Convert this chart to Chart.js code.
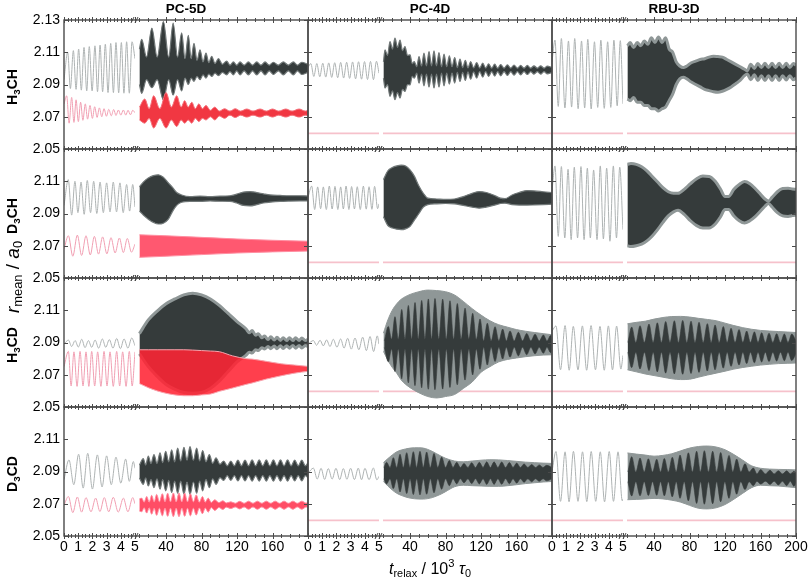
<!DOCTYPE html>
<html>
<head>
<meta charset="utf-8">
<script src="https://cdn.jsdelivr.net/npm/chart.js@4/dist/chart.umd.min.js"></script>
<style>
  html, body { margin: 0; padding: 0; background: #fff; }
  #wrap { position: relative; width: 808px; height: 581px; font-family: "Liberation Sans", Arial, Helvetica, sans-serif; color: #000; }
  #chart { position: absolute; left: 0; top: 0; }
  .lab { position: absolute; white-space: nowrap; line-height: 1; }
  .colt { font-weight: bold; font-size: 13.5px; transform: translate(-50%, -50%); }
  .rowt { font-weight: bold; font-size: 14px; transform: translate(-50%, -50%) rotate(-90deg); }
  .ytitle { font-size: 19px; transform: translate(-50%, -50%) rotate(-90deg); }
  .xtitle { font-size: 16px; transform: translate(-50%, -50%); }
  .lab sub, .lab sup { font-size: 0.7em; line-height: 0; }
  .lab sub { vertical-align: -0.3em; }
  .lab sup { vertical-align: 0.6em; }
  .ytitle sub, .xtitle sub { font-size: 0.68em; }
</style>
</head>
<body>
<div id="wrap">
  <canvas id="chart" width="808" height="581"></canvas>
</div>
<script>
// ---- labels and ticks ----
const colNames = ['PC-5D', 'PC-4D', 'RBU-3D'];
const rowNames = ['H<sub>3</sub>CH', 'D<sub>3</sub>CH', 'H<sub>3</sub>CD', 'D<sub>3</sub>CD'];
const yTitle = '<i>r</i><sub>mean</sub> / <i>a</i><sub>0</sub>';
const xTitle = '<i>t</i><sub>relax</sub> / 10<sup>3</sup> <i>&tau;</i><sub>0</sub>';

const yTicks = [2.05, 2.07, 2.09, 2.11, 2.13];
const yTickLabels = ['2.05', '2.07', '2.09', '2.11', '2.13'];
const xTicksEarly = [0, 1, 2, 3, 4, 5];
const xTickLabelsEarly = ['0', '1', '2', '3', '4', '5'];
const xTicksLate = [40, 80, 120, 160, 200];
const xTickLabelsLate = ['40', '80', '120', '160', '200'];
const xMinorEarly = [0.25, 0.5, 0.75, 1.25, 1.5, 1.75, 2.25, 2.5, 2.75, 3.25, 3.5, 3.75, 4.25, 4.5, 4.75];
const xMinorLate = [10, 20, 30, 50, 60, 70, 90, 100, 110, 130, 140, 150, 170, 180, 190];

// flat pink trace (PC-4D, RBU-3D columns)
const flatPinkEarlyT = [0, 5];
const flatPinkEarlyV = [2.0597, 2.0597];
const flatPinkLateT = [9.5, 200];
const flatPinkLateV = [2.0597, 2.0597];

// ---- H3CH / PC-5D ----
const p11LineT = [0, 0.26, 0.45, 0.66, 0.85, 1.03, 1.22, 1.41, 1.6, 1.78, 1.98, 2.18, 2.36, 2.54, 2.72, 2.91, 3.1, 3.29, 3.48, 3.66, 3.85, 4.04, 4.22, 4.41, 4.6, 4.79, 5];
const p11LineV = [2.093, 2.110, 2.0875, 2.111, 2.087, 2.112, 2.0865, 2.113, 2.086, 2.1135, 2.086, 2.114, 2.0855, 2.1145, 2.0855, 2.115, 2.085, 2.1155, 2.085, 2.116, 2.0848, 2.116, 2.0846, 2.1165, 2.0846, 2.1165, 2.106];
const p11PinkT = [0, 0.19, 0.36, 0.54, 0.70, 0.85, 1.01, 1.17, 1.33, 1.5, 1.66, 1.83, 2.0, 2.16, 2.33, 2.49, 2.66, 2.82, 2.99, 3.15, 3.33, 3.5, 3.66, 3.83, 4.0, 4.18, 4.35, 4.51, 4.68, 4.84, 5];
const p11PinkV = [2.078, 2.083, 2.066, 2.082, 2.0665, 2.0805, 2.067, 2.079, 2.0678, 2.078, 2.0685, 2.077, 2.069, 2.0762, 2.0696, 2.0755, 2.070, 2.075, 2.0703, 2.0746, 2.0706, 2.0745, 2.0708, 2.0742, 2.071, 2.0742, 2.071, 2.074, 2.0712, 2.074, 2.0725];
const p11BandT = [10, 12.5, 18, 24, 30, 37, 43, 48, 53, 57.6, 61.4, 65.1, 68.3, 71.5, 74.9, 78.3, 81.7, 85, 88.2, 91.4, 95.2, 99, 103.6, 108.3, 112, 115.9, 119.6, 123.4, 128, 132.8, 137.5, 142.2, 147, 151.6, 156.3, 161, 166.6, 172.2, 177.8, 183.5, 188.2, 192.9, 200];
const p11BandHi = [2.112, 2.118, 2.107, 2.125, 2.107, 2.129, 2.107, 2.128, 2.107, 2.122, 2.106, 2.1205, 2.106, 2.1155, 2.105, 2.1115, 2.104, 2.1095, 2.1035, 2.1075, 2.103, 2.106, 2.1025, 2.1045, 2.102, 2.104, 2.102, 2.104, 2.102, 2.104, 2.102, 2.104, 2.102, 2.104, 2.102, 2.1038, 2.102, 2.104, 2.102, 2.104, 2.102, 2.1038, 2.1025];
const p11BandLo = [2.090, 2.0845, 2.093, 2.088, 2.093, 2.0805, 2.093, 2.0835, 2.093, 2.086, 2.094, 2.090, 2.094, 2.092, 2.095, 2.093, 2.096, 2.094, 2.0965, 2.095, 2.097, 2.0955, 2.0975, 2.096, 2.098, 2.096, 2.0985, 2.096, 2.0985, 2.096, 2.0985, 2.096, 2.0985, 2.096, 2.0985, 2.0962, 2.0985, 2.096, 2.0985, 2.096, 2.0985, 2.0962, 2.0975];
const p11RedT = [10, 16, 21, 26, 33, 40, 46, 52, 57, 61, 65, 69, 73, 77, 81, 85, 90, 95, 100, 106, 112, 118, 124, 131, 138, 146, 153, 160, 167, 175, 182, 190, 197, 200];
const p11RedHi = [2.076, 2.081, 2.075, 2.083, 2.075, 2.085, 2.076, 2.083, 2.076, 2.080, 2.076, 2.079, 2.075, 2.078, 2.075, 2.077, 2.074, 2.076, 2.0735, 2.075, 2.0735, 2.075, 2.0735, 2.0748, 2.0735, 2.0748, 2.0735, 2.0748, 2.0735, 2.0748, 2.0735, 2.0748, 2.0735, 2.074];
const p11RedLo = [2.068, 2.066, 2.069, 2.063, 2.069, 2.063, 2.068, 2.064, 2.068, 2.066, 2.068, 2.066, 2.069, 2.067, 2.069, 2.068, 2.070, 2.068, 2.0705, 2.069, 2.071, 2.0695, 2.071, 2.0698, 2.071, 2.0698, 2.071, 2.0698, 2.071, 2.0698, 2.071, 2.0698, 2.071, 2.0705];

// ---- H3CH / PC-4D ----
const p12LineT = [0, 0.2, 0.41, 0.62, 0.83, 1.04, 1.25, 1.46, 1.67, 1.88, 2.09, 2.3, 2.51, 2.72, 2.93, 3.14, 3.35, 3.56, 3.77, 3.98, 4.19, 4.4, 4.61, 4.82, 5];
const p12LineV = [2.1005, 2.103, 2.095, 2.103, 2.0948, 2.1032, 2.0946, 2.1034, 2.0944, 2.1035, 2.0942, 2.1037, 2.094, 2.1038, 2.0938, 2.104, 2.0935, 2.1041, 2.0933, 2.1042, 2.0931, 2.1043, 2.093, 2.1044, 2.097];
const p12BandT = [10, 11.8, 14.6, 17.4, 20.2, 23, 25.9, 28.7, 31.5, 34.3, 37.2, 40, 42.4, 44.8, 47.5, 50.1, 53, 55.7, 58.5, 61.4, 64.2, 67, 69.8, 72.6, 75.5, 78.3, 81.3, 84.3, 87.3, 90.3, 93.3, 96.3, 99.3, 102.3, 105.3, 108.3, 111.7, 115.1, 118.5, 121.9, 125.3, 128.6, 132, 135.4, 138.8, 142.2, 146, 149.7, 153.5, 157.2, 161, 164.7, 168.5, 172.2, 176, 179.7, 183.5, 187.3, 191, 194.8, 200];
const p12BandHi = [2.104, 2.1115, 2.108, 2.1166, 2.112, 2.1187, 2.113, 2.1176, 2.111, 2.1135, 2.108, 2.1084, 2.103, 2.1042, 2.101, 2.1073, 2.1015, 2.1094, 2.1015, 2.1104, 2.1015, 2.1108, 2.1015, 2.1098, 2.101, 2.1088, 2.101, 2.1077, 2.101, 2.1067, 2.1005, 2.1057, 2.1005, 2.1049, 2.1003, 2.1042, 2.1003, 2.1036, 2.1002, 2.1032, 2.1002, 2.1028, 2.1001, 2.1026, 2.1001, 2.1024, 2.1001, 2.1022, 2.1001, 2.102, 2.1001, 2.1018, 2.1001, 2.1018, 2.1001, 2.1016, 2.1001, 2.1016, 2.1001, 2.1014, 2.1005];
const p12BandLo = [2.094, 2.0878, 2.090, 2.0826, 2.086, 2.0806, 2.085, 2.0816, 2.087, 2.0857, 2.090, 2.0898, 2.095, 2.0939, 2.097, 2.0909, 2.0965, 2.0892, 2.0965, 2.0884, 2.0965, 2.0878, 2.0965, 2.0884, 2.097, 2.0892, 2.097, 2.0902, 2.097, 2.0909, 2.0975, 2.0919, 2.0975, 2.0925, 2.0978, 2.0933, 2.0978, 2.094, 2.098, 2.0946, 2.098, 2.095, 2.098, 2.0952, 2.098, 2.0954, 2.098, 2.0956, 2.098, 2.0958, 2.098, 2.096, 2.098, 2.0962, 2.098, 2.0964, 2.098, 2.0964, 2.098, 2.0966, 2.0975];

// ---- H3CH / RBU-3D ----
const p13LineT = [0, 0.21, 0.44, 0.66, 0.91, 1.16, 1.38, 1.6, 1.84, 2.08, 2.3, 2.52, 2.76, 2.99, 3.22, 3.44, 3.68, 3.92, 4.14, 4.36, 4.59, 4.81, 5];
const p13LineV = [2.104, 2.1176, 2.0764, 2.1185, 2.0754, 2.117, 2.076, 2.1185, 2.075, 2.117, 2.0754, 2.118, 2.0748, 2.1165, 2.0758, 2.1175, 2.0752, 2.1165, 2.0758, 2.1175, 2.0768, 2.1172, 2.078];
const p13BandT = [10, 13, 17, 21, 25, 29, 33, 37, 41, 45, 49, 53, 57, 61, 65, 69, 73, 77, 82, 87, 92, 97, 102, 107, 112, 117, 122, 127, 132, 137, 142, 145, 149, 153, 157, 161, 165, 169, 173, 177, 181, 185, 189, 193, 197, 200];
const p13BandHi = [2.114, 2.116, 2.113, 2.116, 2.114, 2.117, 2.115, 2.119, 2.116, 2.1195, 2.116, 2.119, 2.112, 2.110, 2.104, 2.1015, 2.1005, 2.1015, 2.1035, 2.1045, 2.1055, 2.106, 2.107, 2.1075, 2.1073, 2.107, 2.1055, 2.104, 2.1025, 2.101, 2.0995, 2.0985, 2.1025, 2.100, 2.103, 2.1005, 2.1032, 2.1005, 2.1032, 2.1005, 2.1032, 2.1005, 2.1032, 2.1005, 2.103, 2.102];
const p13BandLo = [2.081, 2.080, 2.082, 2.079, 2.079, 2.077, 2.077, 2.075, 2.075, 2.0735, 2.075, 2.076, 2.080, 2.084, 2.090, 2.0935, 2.0945, 2.0935, 2.0915, 2.090, 2.0885, 2.087, 2.0862, 2.0855, 2.0852, 2.0858, 2.087, 2.0885, 2.0905, 2.0925, 2.0955, 2.0965, 2.093, 2.096, 2.0925, 2.0955, 2.0925, 2.0955, 2.0925, 2.0955, 2.0925, 2.0955, 2.0928, 2.0955, 2.093, 2.094];

// ---- D3CH / PC-5D ----
const p21LineT = [0, 0.3, 0.54, 0.77, 0.98, 1.2, 1.42, 1.64, 1.87, 2.09, 2.31, 2.54, 2.77, 3.0, 3.24, 3.47, 3.7, 3.94, 4.17, 4.41, 4.62, 4.84, 5];
const p21LineV = [2.095, 2.111, 2.089, 2.110, 2.0905, 2.1095, 2.0895, 2.1105, 2.0905, 2.110, 2.090, 2.1095, 2.0905, 2.109, 2.091, 2.1095, 2.091, 2.109, 2.0905, 2.108, 2.0915, 2.108, 2.094];
const p21PinkT = [0, 0.31, 0.62, 0.94, 1.24, 1.55, 1.85, 2.14, 2.43, 2.72, 3.02, 3.31, 3.6, 3.9, 4.18, 4.46, 4.75, 5];
const p21PinkV = [2.068, 2.0762, 2.0635, 2.0766, 2.064, 2.0762, 2.0643, 2.0758, 2.0648, 2.0755, 2.065, 2.075, 2.0655, 2.0748, 2.0658, 2.0745, 2.066, 2.071];
const p21BandT = [10, 14.4, 20, 25.7, 31.3, 36.9, 42.6, 47.5, 52, 57.6, 67, 78.3, 89.6, 100.8, 112.1, 119.6, 127.1, 134.7, 142.2, 149.7, 157.2, 168.5, 179.7, 191, 200];
const p21BandHi = [2.1065, 2.1095, 2.112, 2.1135, 2.114, 2.1125, 2.109, 2.106, 2.103, 2.1015, 2.1005, 2.1008, 2.1005, 2.1008, 2.101, 2.102, 2.1033, 2.1036, 2.103, 2.1022, 2.1015, 2.1012, 2.101, 2.101, 2.1008];
const p21BandLo = [2.0915, 2.089, 2.0865, 2.0845, 2.0835, 2.084, 2.0865, 2.0915, 2.095, 2.097, 2.0975, 2.0975, 2.0978, 2.0976, 2.0975, 2.0965, 2.095, 2.0947, 2.0955, 2.0965, 2.097, 2.0975, 2.0977, 2.0978, 2.0978];
const p21RedT = [10, 40, 80, 120, 160, 200];
const p21RedHi = [2.0768, 2.0762, 2.0752, 2.0742, 2.0734, 2.0728];
const p21RedLo = [2.0628, 2.0635, 2.0645, 2.0655, 2.0662, 2.0667];

// ---- D3CH / PC-4D ----
const p22LineT = [0, 0.26, 0.47, 0.68, 0.89, 1.08, 1.29, 1.5, 1.7, 1.9, 2.1, 2.3, 2.49, 2.68, 2.88, 3.07, 3.27, 3.47, 3.68, 3.9, 4.1, 4.3, 4.5, 4.69, 4.9, 5];
const p22LineV = [2.100, 2.107, 2.0925, 2.1065, 2.093, 2.1065, 2.0925, 2.107, 2.0928, 2.1068, 2.0925, 2.1065, 2.0928, 2.107, 2.0925, 2.1067, 2.0928, 2.1066, 2.0925, 2.107, 2.0927, 2.1066, 2.0926, 2.1068, 2.093, 2.096];
const p22BandT = [10, 15, 20, 25, 30, 35, 40, 45, 50, 55, 60, 70, 80, 90, 100, 110, 118, 126, 134, 142, 147, 155, 163, 172, 180, 190, 200];
const p22BandHi = [2.111, 2.1165, 2.1185, 2.1195, 2.120, 2.1195, 2.117, 2.113, 2.107, 2.1025, 2.0995, 2.099, 2.0988, 2.099, 2.1005, 2.1025, 2.1036, 2.103, 2.1015, 2.0995, 2.0992, 2.1015, 2.103, 2.1042, 2.104, 2.1035, 2.103];
const p22BandLo = [2.088, 2.0825, 2.081, 2.0803, 2.080, 2.0805, 2.082, 2.086, 2.090, 2.094, 2.0955, 2.096, 2.0962, 2.096, 2.095, 2.094, 2.0933, 2.094, 2.095, 2.0962, 2.0964, 2.0955, 2.0952, 2.0952, 2.0953, 2.0955, 2.0958];

// ---- D3CH / RBU-3D ----
const p23LineT = [0, 0.21, 0.44, 0.66, 0.9, 1.13, 1.35, 1.57, 1.8, 2.04, 2.26, 2.49, 2.7, 2.93, 3.17, 3.4, 3.62, 3.85, 4.08, 4.32, 4.54, 4.77, 5];
const p23LineV = [2.104, 2.1195, 2.0758, 2.1191, 2.0748, 2.1174, 2.0738, 2.1187, 2.0748, 2.1191, 2.0738, 2.1181, 2.0748, 2.117, 2.0738, 2.1195, 2.0742, 2.1181, 2.0728, 2.1195, 2.0748, 2.1187, 2.08];
const p23BandT = [10, 14, 20, 26, 32, 38, 44, 50, 56, 62, 67, 74, 81, 88, 95, 102, 109, 115, 120, 124, 130, 136, 142, 148, 154, 160, 165, 169, 173, 179, 185, 191, 196, 200];
const p23BandHi = [2.1205, 2.121, 2.1205, 2.119, 2.1165, 2.113, 2.1095, 2.106, 2.1035, 2.1025, 2.1025, 2.105, 2.1085, 2.1115, 2.1132, 2.113, 2.110, 2.105, 2.1005, 2.1005, 2.105, 2.108, 2.1098, 2.1085, 2.1055, 2.102, 2.099, 2.0978, 2.100, 2.1035, 2.1055, 2.1057, 2.1052, 2.105];
const p23BandLo = [2.070, 2.0695, 2.070, 2.071, 2.073, 2.076, 2.080, 2.0845, 2.0885, 2.091, 2.092, 2.0895, 2.0855, 2.0825, 2.081, 2.081, 2.0835, 2.088, 2.0925, 2.0925, 2.0885, 2.0855, 2.0841, 2.0855, 2.088, 2.0915, 2.0945, 2.0962, 2.094, 2.0905, 2.0885, 2.0882, 2.0887, 2.089];

// ---- H3CD / PC-5D ----
const p31LineT = [0, 0.31, 0.54, 0.78, 1.01, 1.25, 1.48, 1.72, 1.95, 2.19, 2.44, 2.7, 2.94, 3.19, 3.45, 3.71, 3.97, 4.23, 4.5, 4.77, 5];
const p31LineV = [2.089, 2.0915, 2.0875, 2.0912, 2.0872, 2.092, 2.0868, 2.0912, 2.087, 2.0915, 2.0865, 2.0922, 2.087, 2.0918, 2.0865, 2.0925, 2.0862, 2.0922, 2.0865, 2.0928, 2.088];
const p31PinkT = [0, 0.31, 0.5, 0.7, 0.92, 1.13, 1.34, 1.55, 1.75, 1.95, 2.16, 2.37, 2.6, 2.82, 3.03, 3.24, 3.47, 3.71, 3.92, 4.13, 4.37, 4.6, 4.8, 5];
const p31PinkV = [2.075, 2.0845, 2.063, 2.0842, 2.0628, 2.0845, 2.063, 2.0842, 2.0628, 2.0845, 2.063, 2.0842, 2.0628, 2.0845, 2.063, 2.0842, 2.0628, 2.0845, 2.063, 2.0842, 2.0628, 2.0845, 2.063, 2.0842];
const p31BandT = [10, 20, 30, 40, 50, 60, 70, 80, 90, 100, 110, 120, 130, 134, 137, 141, 144, 148, 151, 155, 158, 162, 165, 169, 172, 176, 179, 183, 186, 190, 193, 197, 200];
const p31BandHi = [2.0955, 2.104, 2.1095, 2.114, 2.117, 2.1195, 2.1205, 2.1195, 2.117, 2.113, 2.108, 2.103, 2.0985, 2.096, 2.0975, 2.0945, 2.0955, 2.093, 2.094, 2.0918, 2.0935, 2.0915, 2.0932, 2.0913, 2.093, 2.0912, 2.093, 2.0912, 2.093, 2.0912, 2.0928, 2.0912, 2.092];
const p31BandLo = [2.083, 2.075, 2.069, 2.064, 2.061, 2.059, 2.0585, 2.059, 2.0615, 2.066, 2.072, 2.078, 2.082, 2.084, 2.0835, 2.0855, 2.085, 2.0868, 2.086, 2.0875, 2.0862, 2.0878, 2.0862, 2.088, 2.0863, 2.088, 2.0865, 2.0882, 2.0865, 2.0882, 2.0866, 2.0882, 2.0875];
const p31RedT = [10, 20, 30, 40, 50, 60, 70, 80, 90, 100, 115, 130, 137, 153, 170, 185, 200];
const p31RedHi = [2.0855, 2.0855, 2.0855, 2.0855, 2.0855, 2.0855, 2.0853, 2.085, 2.0847, 2.0843, 2.0817, 2.080, 2.0797, 2.0783, 2.0768, 2.076, 2.0752];
const p31RedLo = [2.0645, 2.062, 2.060, 2.0585, 2.0575, 2.057, 2.057, 2.0575, 2.058, 2.0597, 2.0618, 2.064, 2.0649, 2.0673, 2.0694, 2.071, 2.0721];

// ---- H3CD / PC-4D ----
const p32LineT = [0, 0.38, 0.6, 0.85, 1.08, 1.31, 1.55, 1.78, 2.04, 2.3, 2.54, 2.79, 3.05, 3.31, 3.58, 3.85, 4.11, 4.37, 4.62, 4.88, 5];
const p32LineV = [2.089, 2.0912, 2.0883, 2.0914, 2.0879, 2.0916, 2.0875, 2.092, 2.0871, 2.0922, 2.0865, 2.0926, 2.0859, 2.0928, 2.0855, 2.0933, 2.085, 2.0937, 2.0844, 2.0941, 2.089];
const p32BandT = [10, 15, 20, 25, 30, 40, 50, 60, 70, 80, 90, 100, 110, 120, 130, 140, 150, 160, 170, 180, 190, 200];
const p32BandHi = [2.0958, 2.104, 2.110, 2.114, 2.1168, 2.1198, 2.1215, 2.1225, 2.1222, 2.1215, 2.1195, 2.1155, 2.111, 2.107, 2.1035, 2.101, 2.0995, 2.098, 2.097, 2.0962, 2.0955, 2.0948];
const p32BandLo = [2.0845, 2.079, 2.0745, 2.071, 2.0668, 2.062, 2.0588, 2.0565, 2.0556, 2.0565, 2.0577, 2.0615, 2.0655, 2.0715, 2.075, 2.078, 2.0795, 2.0804, 2.0812, 2.0818, 2.0822, 2.0824];
const p32BeadT = [11, 15.5, 19.2, 23, 26.8, 30.6, 34.3, 38.1, 41.8, 45.6, 49.3, 53.1, 56.8, 60.6, 64.3, 68.1, 72.4, 76.8, 80.9, 85, 89.1, 93.3, 97.6, 102, 106.3, 110.6, 114.7, 118.9, 123, 127.1, 131.4, 135.8, 140.1, 144.4, 148.5, 152.7, 157.4, 162.1, 166.8, 171.5, 176.2, 180.9, 185.6, 190.3, 194.4, 198.5, 200];
const p32BeadHi = [2.091, 2.100, 2.092, 2.106, 2.092, 2.1105, 2.092, 2.113, 2.092, 2.1148, 2.092, 2.1161, 2.092, 2.117, 2.092, 2.1173, 2.092, 2.1169, 2.092, 2.1159, 2.092, 2.1142, 2.092, 2.1113, 2.092, 2.1081, 2.092, 2.1046, 2.091, 2.102, 2.091, 2.0998, 2.091, 2.0983, 2.091, 2.0972, 2.091, 2.0963, 2.091, 2.0956, 2.091, 2.0951, 2.091, 2.0947, 2.091, 2.0944, 2.092];
const p32BeadLo = [2.087, 2.078, 2.086, 2.072, 2.086, 2.0675, 2.086, 2.065, 2.086, 2.0632, 2.086, 2.0619, 2.086, 2.061, 2.086, 2.0607, 2.086, 2.0611, 2.086, 2.0621, 2.086, 2.0638, 2.086, 2.0667, 2.086, 2.0699, 2.086, 2.0734, 2.087, 2.076, 2.087, 2.0782, 2.087, 2.0797, 2.087, 2.0808, 2.087, 2.0817, 2.087, 2.0824, 2.087, 2.0829, 2.087, 2.0833, 2.087, 2.0836, 2.086];

// ---- H3CD / RBU-3D ----
const p33LineT = [0, 0.28, 0.6, 0.92, 1.21, 1.5, 1.83, 2.14, 2.44, 2.75, 3.06, 3.38, 3.68, 3.97, 4.26, 4.55, 4.85, 5];
const p33LineV = [2.097, 2.1003, 2.0731, 2.1005, 2.0728, 2.1, 2.073, 2.1003, 2.0728, 2.1005, 2.0731, 2.1, 2.0728, 2.1003, 2.073, 2.1002, 2.0735, 2.082];
const p33BandT = [10, 20, 30, 40, 50, 60, 70, 80, 90, 100, 110, 120, 130, 140, 150, 160, 170, 180, 190, 200];
const p33BandHi = [2.1016, 2.1025, 2.1032, 2.1045, 2.1055, 2.1061, 2.1062, 2.1058, 2.105, 2.1043, 2.1035, 2.102, 2.1005, 2.0992, 2.0982, 2.0975, 2.0971, 2.0968, 2.0965, 2.0962];
const p33BandLo = [2.0731, 2.0718, 2.0705, 2.0695, 2.0685, 2.0675, 2.067, 2.0672, 2.0685, 2.0698, 2.071, 2.0722, 2.0735, 2.0745, 2.0753, 2.076, 2.0765, 2.0769, 2.0771, 2.0773];
const p33BeadT = [10.5, 14.8, 19.5, 24.2, 29.2, 34.3, 39, 43.7, 48.4, 53.1, 58, 62.9, 67.6, 72.3, 77, 81.7, 86.2, 90.7, 95.4, 100.1, 104.4, 108.8, 113.4, 118.1, 122.4, 126.8, 131.3, 135.8, 140.1, 144.4, 148.7, 153.1, 157.2, 161.3, 165.4, 169.6, 173.9, 178.2, 182.5, 186.9, 191, 195.2, 200];
const p33BeadHi = [2.090, 2.0996, 2.090, 2.1004, 2.090, 2.1014, 2.090, 2.1022, 2.090, 2.103, 2.090, 2.1035, 2.090, 2.1037, 2.090, 2.1032, 2.090, 2.1025, 2.090, 2.1017, 2.090, 2.1009, 2.090, 2.0999, 2.090, 2.0988, 2.090, 2.098, 2.090, 2.0971, 2.090, 2.0966, 2.090, 2.0961, 2.090, 2.0958, 2.090, 2.0955, 2.090, 2.0953, 2.090, 2.0952, 2.091];
const p33BeadLo = [2.084, 2.0744, 2.084, 2.0736, 2.084, 2.0726, 2.084, 2.0718, 2.084, 2.071, 2.084, 2.0705, 2.084, 2.0703, 2.084, 2.0708, 2.084, 2.0715, 2.084, 2.0723, 2.084, 2.0731, 2.084, 2.0741, 2.084, 2.0752, 2.084, 2.076, 2.084, 2.0769, 2.084, 2.0774, 2.084, 2.0779, 2.084, 2.0782, 2.084, 2.0785, 2.084, 2.0787, 2.084, 2.0788, 2.083];

// ---- D3CD / PC-5D ----
const p41LineT = [0, 0.35, 0.69, 1.03, 1.35, 1.67, 2.0, 2.35, 2.68, 3.0, 3.33, 3.66, 4.0, 4.34, 4.6, 4.88, 5];
const p41LineV = [2.085, 2.0972, 2.0818, 2.1007, 2.0797, 2.1013, 2.0791, 2.1003, 2.0804, 2.0997, 2.0818, 2.0989, 2.0828, 2.0977, 2.0839, 2.0962, 2.092];
const p41PinkT = [0, 0.31, 0.62, 0.94, 1.24, 1.55, 1.9, 2.23, 2.53, 2.84, 3.15, 3.47, 3.82, 4.18, 4.5, 4.84, 5];
const p41PinkV = [2.069, 2.0745, 2.0645, 2.0742, 2.0648, 2.0738, 2.065, 2.0735, 2.0652, 2.0738, 2.065, 2.074, 2.0648, 2.0735, 2.065, 2.0738, 2.07];
const p41BandT = [9.9, 14.4, 17, 20, 23, 26.4, 29.8, 33.2, 36.2, 39.6, 43, 46.3, 49.7, 53.1, 56.5, 60.2, 63.6, 67, 70.8, 74.5, 77.9, 81.3, 85, 88.8, 92.6, 96.3, 100.8, 105, 109, 113, 117, 121, 125, 129, 133, 137, 141, 145, 149, 153, 157, 161, 165, 169, 173, 177, 181, 185, 189, 193, 197, 200];
const p41BandHi = [2.094, 2.098, 2.094, 2.0995, 2.095, 2.1005, 2.095, 2.1015, 2.0955, 2.1025, 2.096, 2.1035, 2.096, 2.1045, 2.0965, 2.105, 2.097, 2.1055, 2.097, 2.1045, 2.0965, 2.103, 2.096, 2.1005, 2.095, 2.0985, 2.0945, 2.0965, 2.0935, 2.0965, 2.0935, 2.097, 2.0935, 2.097, 2.0935, 2.0972, 2.0935, 2.0972, 2.0935, 2.0972, 2.0935, 2.0972, 2.0935, 2.0972, 2.0935, 2.0972, 2.0935, 2.097, 2.0935, 2.097, 2.0935, 2.0955];
const p41BandLo = [2.086, 2.082, 2.086, 2.081, 2.085, 2.080, 2.0855, 2.079, 2.085, 2.078, 2.0845, 2.077, 2.084, 2.0765, 2.084, 2.076, 2.0835, 2.0757, 2.0835, 2.0765, 2.084, 2.078, 2.085, 2.080, 2.0855, 2.082, 2.0862, 2.0845, 2.0875, 2.0845, 2.0875, 2.0842, 2.0875, 2.0842, 2.0875, 2.084, 2.0875, 2.084, 2.0875, 2.084, 2.0875, 2.084, 2.0875, 2.084, 2.0875, 2.084, 2.0875, 2.0842, 2.0875, 2.0842, 2.0875, 2.086];
const p41RedT = [9.9, 12.5, 15.3, 18.2, 21, 23.8, 26.6, 29.4, 32.5, 35.8, 38.8, 41.8, 45, 48.2, 51.4, 54.6, 57.8, 61, 64.2, 67.4, 70.8, 74, 77.5, 81, 84.2, 87.5, 91, 95, 99.5, 104, 108, 113, 118, 123, 128, 133, 138, 143, 148, 153, 158, 163, 168, 173, 178, 183, 188, 193, 198, 200];
const p41RedHi = [2.073, 2.0735, 2.071, 2.0745, 2.071, 2.0752, 2.0712, 2.0758, 2.0712, 2.0762, 2.0712, 2.0765, 2.0712, 2.0767, 2.0712, 2.0767, 2.0712, 2.0766, 2.0712, 2.0762, 2.0712, 2.0755, 2.071, 2.0745, 2.071, 2.0735, 2.0708, 2.0725, 2.0707, 2.0718, 2.0705, 2.0712, 2.0703, 2.0715, 2.0703, 2.0716, 2.0703, 2.0716, 2.0703, 2.0716, 2.0703, 2.0716, 2.0703, 2.0716, 2.0703, 2.0716, 2.0703, 2.0716, 2.0704, 2.071];
const p41RedLo = [2.0655, 2.065, 2.0675, 2.0642, 2.0675, 2.0635, 2.0672, 2.0628, 2.0672, 2.0625, 2.0672, 2.0622, 2.0672, 2.062, 2.0672, 2.062, 2.0672, 2.0622, 2.0672, 2.0625, 2.0672, 2.063, 2.0674, 2.0638, 2.0674, 2.0648, 2.0676, 2.0658, 2.0677, 2.0665, 2.0679, 2.067, 2.068, 2.0668, 2.068, 2.0666, 2.068, 2.0666, 2.068, 2.0666, 2.068, 2.0666, 2.068, 2.0666, 2.068, 2.0666, 2.068, 2.0666, 2.068, 2.0673];

// ---- D3CD / PC-4D ----
const p42LineT = [0, 0.38, 0.65, 0.92, 1.17, 1.43, 1.7, 1.97, 2.23, 2.49, 2.74, 3.0, 3.27, 3.54, 3.77, 4.01, 4.3, 4.6, 4.85, 5];
const p42LineV = [2.089, 2.0921, 2.0853, 2.092, 2.0851, 2.0918, 2.0853, 2.092, 2.085, 2.0918, 2.0852, 2.092, 2.085, 2.0921, 2.0849, 2.092, 2.0849, 2.0922, 2.0848, 2.087];
const p42BandT = [10, 15, 20, 25, 30, 35, 40, 45, 50, 55, 60, 65, 70, 75, 80, 90, 100, 110, 120, 130, 140, 150, 160, 170, 180, 190, 200];
const p42BandHi = [2.0955, 2.098, 2.1003, 2.1022, 2.1033, 2.104, 2.1045, 2.1047, 2.1047, 2.1045, 2.1037, 2.1025, 2.101, 2.0995, 2.0982, 2.0965, 2.096, 2.0965, 2.097, 2.0973, 2.0972, 2.0968, 2.0963, 2.0958, 2.0955, 2.0952, 2.095];
const p42BandLo = [2.0838, 2.081, 2.0785, 2.0765, 2.0752, 2.0742, 2.0735, 2.0731, 2.0729, 2.0729, 2.0732, 2.0738, 2.0748, 2.076, 2.0775, 2.0805, 2.0815, 2.0812, 2.081, 2.0808, 2.0808, 2.0812, 2.0818, 2.0825, 2.083, 2.0835, 2.0838];
const p42BeadT = [10.5, 13.6, 17.4, 21.2, 25, 28.7, 32.5, 36.2, 40, 43.7, 47.5, 51.2, 55, 58.7, 62.9, 67, 71.3, 75.6, 80, 84.3, 88.5, 92.6, 96.7, 100.8, 105.2, 109.5, 113.8, 118.1, 122.3, 126.4, 130.6, 134.7, 139, 143.3, 147.7, 152, 156.1, 160.2, 164.4, 168.5, 172.8, 177.1, 181.4, 185.7, 189.9, 194, 200];
const p42BeadHi = [2.0925, 2.0957, 2.0925, 2.0986, 2.0925, 2.1007, 2.0925, 2.1017, 2.0925, 2.1023, 2.0925, 2.1025, 2.0925, 2.1021, 2.0925, 2.1012, 2.0925, 2.099, 2.0925, 2.0968, 2.0925, 2.0957, 2.0925, 2.095, 2.0925, 2.0955, 2.0925, 2.0957, 2.0925, 2.096, 2.0925, 2.096, 2.0925, 2.0959, 2.0925, 2.0956, 2.0925, 2.0952, 2.0925, 2.0947, 2.0925, 2.0944, 2.0925, 2.0941, 2.0925, 2.0938, 2.0925];
const p42BeadLo = [2.0855, 2.0823, 2.0855, 2.0794, 2.0855, 2.0773, 2.0855, 2.0763, 2.0855, 2.0757, 2.0855, 2.0755, 2.0855, 2.0759, 2.0855, 2.0768, 2.0855, 2.079, 2.0855, 2.0812, 2.0855, 2.0823, 2.0855, 2.083, 2.0855, 2.0825, 2.0855, 2.0823, 2.0855, 2.082, 2.0855, 2.082, 2.0855, 2.0821, 2.0855, 2.0824, 2.0855, 2.0828, 2.0855, 2.0833, 2.0855, 2.0836, 2.0855, 2.0839, 2.0855, 2.0842, 2.0855];

// ---- D3CD / RBU-3D ----
const p43LineT = [0, 0.28, 0.6, 0.92, 1.2, 1.51, 1.83, 2.15, 2.45, 2.76, 3.08, 3.4, 3.7, 4.03, 4.33, 4.65, 4.95, 5];
const p43LineV = [2.09, 2.1024, 2.0715, 2.1022, 2.0712, 2.1025, 2.0715, 2.1022, 2.0713, 2.1024, 2.0715, 2.1022, 2.0712, 2.1024, 2.0715, 2.1022, 2.0718, 2.073];
const p43BandT = [10, 20, 30, 40, 50, 60, 70, 80, 90, 100, 110, 120, 130, 140, 150, 160, 170, 180, 190, 200];
const p43BandHi = [2.1015, 2.1008, 2.1002, 2.0995, 2.1, 2.101, 2.1028, 2.1045, 2.1055, 2.1058, 2.1052, 2.1035, 2.1005, 2.097, 2.0935, 2.092, 2.0915, 2.0913, 2.0912, 2.091];
const p43BandLo = [2.0725, 2.0727, 2.073, 2.0733, 2.073, 2.0722, 2.071, 2.069, 2.0672, 2.0668, 2.0675, 2.0695, 2.0728, 2.0765, 2.080, 2.0815, 2.0812, 2.081, 2.0805, 2.080];
const p43BeadT = [10.5, 14.8, 19.5, 24.2, 28.9, 33.6, 38.3, 43, 47.3, 51.6, 56.1, 60.6, 65, 69.3, 74, 78.7, 83.4, 88, 92.4, 96.7, 101.4, 106.1, 110.6, 115.1, 119.8, 124.5, 128.8, 133.1, 137.8, 142.5, 147.2, 151.9, 156, 160.2, 165.5, 170.7, 175.4, 180.1, 184.8, 189.5, 193.6, 197.7, 200];
const p43BeadHi = [2.0897, 2.0992, 2.0897, 2.0983, 2.0897, 2.0979, 2.0897, 2.0976, 2.0897, 2.0981, 2.0897, 2.0989, 2.0897, 2.1002, 2.0897, 2.1016, 2.0897, 2.1026, 2.0897, 2.1029, 2.0897, 2.1026, 2.0897, 2.1018, 2.0897, 2.1, 2.0897, 2.0977, 2.0897, 2.0948, 2.0897, 2.0922, 2.0885, 2.0912, 2.0885, 2.0908, 2.0885, 2.0905, 2.0885, 2.0904, 2.0885, 2.0902, 2.0888];
const p43BeadLo = [2.0837, 2.0748, 2.0837, 2.0749, 2.0837, 2.0751, 2.0837, 2.0752, 2.0837, 2.0749, 2.0837, 2.0743, 2.0837, 2.0734, 2.0837, 2.0718, 2.0837, 2.0702, 2.0837, 2.0697, 2.0837, 2.07, 2.0837, 2.0712, 2.0837, 2.0734, 2.0837, 2.0759, 2.0837, 2.0788, 2.0837, 2.0812, 2.084, 2.0822, 2.084, 2.082, 2.084, 2.0817, 2.084, 2.0812, 2.084, 2.0808, 2.083];

// panel layout: row (molecule) x column (model)
const panels = [
  { r: 0, c: 0, grey: [p11LineT, p11LineV], pink: [p11PinkT, p11PinkV], band: [p11BandT, p11BandHi, p11BandLo], look: 'solid', red: [p11RedT, p11RedHi, p11RedLo] },
  { r: 0, c: 1, grey: [p12LineT, p12LineV], band: [p12BandT, p12BandHi, p12BandLo], look: 'solid' },
  { r: 0, c: 2, grey: [p13LineT, p13LineV], band: [p13BandT, p13BandHi, p13BandLo], look: 'halo' },
  { r: 1, c: 0, grey: [p21LineT, p21LineV], pink: [p21PinkT, p21PinkV], band: [p21BandT, p21BandHi, p21BandLo], look: 'solid', red: [p21RedT, p21RedHi, p21RedLo] },
  { r: 1, c: 1, grey: [p22LineT, p22LineV], band: [p22BandT, p22BandHi, p22BandLo], look: 'solid' },
  { r: 1, c: 2, grey: [p23LineT, p23LineV], band: [p23BandT, p23BandHi, p23BandLo], look: 'halo' },
  { r: 2, c: 0, grey: [p31LineT, p31LineV], pink: [p31PinkT, p31PinkV], band: [p31BandT, p31BandHi, p31BandLo], look: 'halo', red: [p31RedT, p31RedHi, p31RedLo] },
  { r: 2, c: 1, grey: [p32LineT, p32LineV], band: [p32BandT, p32BandHi, p32BandLo], beads: [p32BeadT, p32BeadHi, p32BeadLo], look: 'twoTone' },
  { r: 2, c: 2, grey: [p33LineT, p33LineV], band: [p33BandT, p33BandHi, p33BandLo], beads: [p33BeadT, p33BeadHi, p33BeadLo], look: 'twoTone' },
  { r: 3, c: 0, grey: [p41LineT, p41LineV], pink: [p41PinkT, p41PinkV], band: [p41BandT, p41BandHi, p41BandLo], look: 'solid', red: [p41RedT, p41RedHi, p41RedLo] },
  { r: 3, c: 1, grey: [p42LineT, p42LineV], band: [p42BandT, p42BandHi, p42BandLo], beads: [p42BeadT, p42BeadHi, p42BeadLo], look: 'twoTone' },
  { r: 3, c: 2, grey: [p43LineT, p43LineV], band: [p43BandT, p43BandHi, p43BandLo], beads: [p43BeadT, p43BeadHi, p43BeadLo], look: 'twoTone' },
];

const FONT = '"Liberation Sans", Arial, Helvetica, sans-serif';
const GREY_THIN = '#aeb3b3';
const PINK_THIN = '#f19fb2';
const PINK_FLAT = '#f6c1cb';
const DARK = '#353b3b';
const EDGE = '#717878';
const LIGHT = '#8f9797';
const redFill = ['rgba(240,38,50,0.92)', 'rgba(255,70,96,0.9)', 'rgba(255,36,52,0.88)', 'rgba(255,62,88,0.92)'];
const redEdge = ['#f4707a', '#ff8fa2', '#f7a3ad', '#ff8a9e'];

const rowIds = ['y1', 'y2', 'y3', 'y4'];
const colIds = [['xa1', 'xb1'], ['xa2', 'xb2'], ['xa3', 'xb3']];

const datasets = [];
function pts(ts, vs) {
  return ts.map((t, i) => ({ x: t, y: vs[i] }));
}
function addLine(r, c, seg, ts, vs, color, width) {
  datasets.push({
    xAxisID: colIds[c][seg], yAxisID: rowIds[r],
    data: pts(ts, vs),
    borderColor: color, borderWidth: width,
    pointRadius: 0, fill: false, cubicInterpolationMode: 'monotone'
  });
}
function addBand(r, c, band, fillColor, edgeColor, edgeWidth) {
  const [ts, hi, lo] = band;
  datasets.push({
    xAxisID: colIds[c][1], yAxisID: rowIds[r],
    data: pts(ts, hi), fill: '+1', backgroundColor: fillColor,
    borderColor: edgeColor, borderWidth: edgeWidth,
    pointRadius: 0, cubicInterpolationMode: 'monotone'
  });
  datasets.push({
    xAxisID: colIds[c][1], yAxisID: rowIds[r],
    data: pts(ts, lo), fill: false,
    borderColor: edgeColor, borderWidth: edgeWidth,
    pointRadius: 0, cubicInterpolationMode: 'monotone'
  });
}

panels.forEach(p => {
  if (p.pink) {
    addLine(p.r, p.c, 0, p.pink[0], p.pink[1], PINK_THIN, 1);
  } else {
    addLine(p.r, p.c, 0, flatPinkEarlyT, flatPinkEarlyV, PINK_FLAT, 1.6);
    addLine(p.r, p.c, 1, flatPinkLateT, flatPinkLateV, PINK_FLAT, 1.6);
  }
  addLine(p.r, p.c, 0, p.grey[0], p.grey[1], GREY_THIN, 1);
  if (p.look === 'twoTone') {
    addBand(p.r, p.c, p.band, LIGHT, LIGHT, 1);
    addBand(p.r, p.c, p.beads, DARK, DARK, 0.6);
  } else if (p.look === 'halo') {
    addBand(p.r, p.c, p.band, DARK, LIGHT, 3);
  } else {
    addBand(p.r, p.c, p.band, DARK, EDGE, 1.2);
  }
  if (p.red) addBand(p.r, p.c, p.red, redFill[p.r], redEdge[p.r], 1);
});
// later datasets on top
datasets.forEach((d, i) => { d.order = -i; });

// ---- scales ----
const tickFont = { family: FONT, size: 14 };
const scales = {};
colIds.forEach(([aId, bId], c) => {
  scales[aId] = {
    type: 'linear', position: 'bottom', stack: 'cols', stackWeight: 71,
    min: 0, max: 5,
    grid: { display: false, drawTicks: false }, border: { display: false },
    afterBuildTicks: s => { s.ticks = xTicksEarly.map(v => ({ value: v })); },
    afterFit: s => { s.height = 30; s.paddingLeft = 0; s.paddingRight = 0; },
    ticks: { autoSkip: false, maxRotation: 0, padding: 3, color: '#000', font: tickFont,
      callback: (v, i) => xTickLabelsEarly[i] }
  };
  const late = c === colIds.length - 1 ? xTicksLate : xTicksLate.slice(0, -1);
  scales[bId] = {
    type: 'linear', position: 'bottom', stack: 'cols', stackWeight: 173,
    min: 5, max: 200,
    grid: { display: false, drawTicks: false }, border: { display: false },
    afterBuildTicks: s => { s.ticks = late.map(v => ({ value: v })); },
    afterFit: s => { s.height = 30; s.paddingLeft = 0; s.paddingRight = 0; },
    ticks: { autoSkip: false, maxRotation: 0, padding: 3, color: '#000', font: tickFont,
      callback: (v, i) => xTickLabelsLate[i] }
  };
});
// left stack is laid out from the last-defined axis downward, so define bottom row first
rowIds.slice().reverse().forEach(id => {
  const r = rowIds.indexOf(id);
  scales[id] = {
    type: 'linear', position: 'left', stack: 'rows', stackWeight: 1,
    min: 2.05, max: 2.13,
    grid: { display: false, drawTicks: false }, border: { display: false },
    afterBuildTicks: s => { s.ticks = yTicks.map(v => ({ value: v })); },
    afterFit: s => { s.width = 64; s.paddingTop = 0; s.paddingBottom = 0; },
    ticks: { autoSkip: false, padding: 4, color: '#000', font: tickFont,
      callback: (v, i) => (r > 0 && i === yTicks.length - 1) ? '' : yTickLabels[i] }
  };
});

// frames, inner ticks and axis-break marks for every panel
const panelFrames = {
  id: 'panelFrames',
  afterDatasetsDraw(chart) {
    const ctx = chart.ctx;
    ctx.save();
    ctx.strokeStyle = '#4a4a4a';
    rowIds.forEach(yId => {
      const ys = chart.scales[yId];
      colIds.forEach(([aId, bId]) => {
        const xa = chart.scales[aId], xb = chart.scales[bId];
        const L = xa.left, R = xb.right, T = ys.top, B = ys.bottom;
        ctx.lineWidth = 1;
        ctx.beginPath();
        yTicks.forEach(v => {
          const y = Math.round(ys.getPixelForValue(v)) + 0.5;
          ctx.moveTo(L, y); ctx.lineTo(L + 4, y);
          ctx.moveTo(R - 4, y); ctx.lineTo(R, y);
        });
        const mark = (s, v, len) => {
          const x = Math.round(s.getPixelForValue(v)) + 0.5;
          ctx.moveTo(x, T - len); ctx.lineTo(x, T + len);
          ctx.moveTo(x, B - len); ctx.lineTo(x, B + len);
        };
        xTicksEarly.forEach(v => mark(xa, v, 3));
        xMinorEarly.forEach(v => mark(xa, v, 2));
        xTicksLate.forEach(v => mark(xb, v, 3));
        xMinorLate.forEach(v => mark(xb, v, 2));
        // break marks
        const bx = xb.left;
        [T, B].forEach(y => {
          ctx.moveTo(bx - 4, y + 3); ctx.lineTo(bx - 1, y - 3);
          ctx.moveTo(bx, y + 3); ctx.lineTo(bx + 3, y - 3);
        });
        ctx.stroke();
        ctx.lineWidth = 1.4;
        ctx.strokeRect(L, T, R - L, B - T);
      });
    });
    ctx.restore();
  }
};

const chart = new Chart(document.getElementById('chart'), {
  type: 'line',
  data: { datasets },
  options: {
    responsive: false,
    animation: false,
    events: [],
    layout: { autoPadding: false, padding: { left: 0, right: 12, top: 20, bottom: 15 } },
    plugins: { legend: { display: false }, tooltip: { enabled: false }, title: { display: false } },
    scales
  },
  plugins: [panelFrames]
});

// ---- text placed from the chart's own scales ----
const wrap = document.getElementById('wrap');
function addLabel(cls, html, x, y) {
  const d = document.createElement('div');
  d.className = 'lab ' + cls;
  d.innerHTML = html;
  d.style.left = x + 'px';
  d.style.top = y + 'px';
  wrap.appendChild(d);
}
colNames.forEach((name, c) => {
  const xa = chart.scales[colIds[c][0]], xb = chart.scales[colIds[c][1]];
  addLabel('colt', name, (xa.left + xb.right) / 2, 9);
});
rowNames.forEach((name, r) => {
  const ys = chart.scales[rowIds[r]];
  addLabel('rowt', name, 12, (ys.top + ys.bottom) / 2 + 2);
});
addLabel('ytitle', yTitle, 12, (chart.scales.y2.bottom + chart.scales.y3.top) / 2 - 1);
addLabel('xtitle', xTitle, (chart.chartArea.left + chart.chartArea.right) / 2, 569);
</script>
</body>
</html>
